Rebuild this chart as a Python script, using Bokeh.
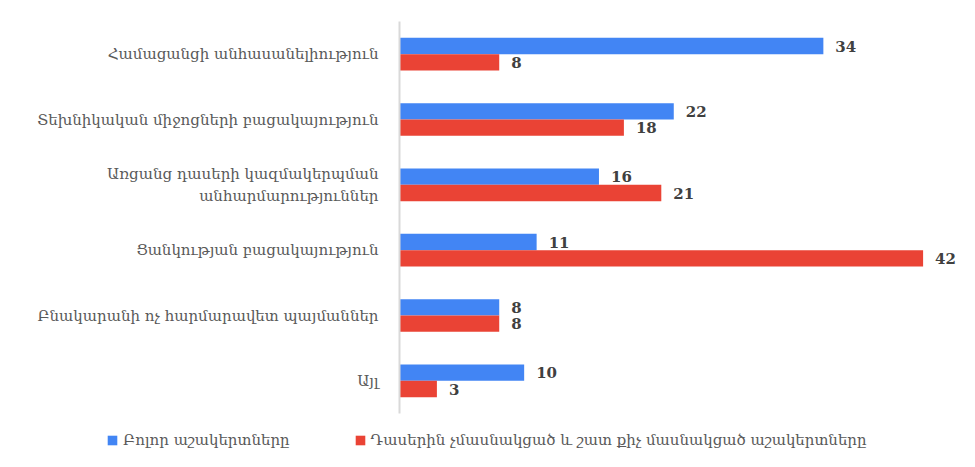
from bokeh.plotting import figure
from bokeh.layouts import column
from bokeh.models import ColumnDataSource, FactorRange, Legend, LegendItem
from bokeh.transform import dodge
from bokeh.core.properties import value
from bokeh.embed import file_html
from bokeh.resources import INLINE

categories = [
    "Համացանցի անհասանելիություն",
    "Տեխնիկական միջոցների բացակայություն",
    "Առցանց դասերի կազմակերպման\nանհարմարություններ",
    "Ցանկության բացակայություն",
    "Բնակարանի ոչ հարմարավետ պայմաններ",
    "Այլ",
]
all_students = [34, 22, 16, 11, 8, 10]
absent_students = [8, 18, 21, 42, 8, 3]
series_names = [
    "Բոլոր աշակերտները",
    "Դասերին չմասնակցած և շատ քիչ մասնակցած աշակերտները",
]
colors = ["#4285F4", "#EA4335"]

FONT = "DejaVu Serif"

src = ColumnDataSource(dict(
    cat=categories,
    a=all_students,
    b=absent_students,
    a_txt=[str(v) for v in all_students],
    b_txt=[str(v) for v in absent_students],
))

p = figure(
    width=967, height=425,
    y_range=FactorRange(*categories[::-1]),
    x_range=(0, 45),
    output_backend="svg", toolbar_location=None,
    min_border_left=399, min_border_right=7, min_border_top=21, min_border_bottom=12,
)
p.frame_align = False
p.xaxis.visible = False
p.xgrid.visible = False
p.ygrid.visible = False
p.outline_line_color = None

ax = p.yaxis[0]
ax.axis_line_color = "#d9d9d9"
ax.axis_line_width = 2
ax.major_tick_line_color = None
ax.minor_tick_line_color = None
ax.major_label_standoff = 15
ax.major_label_text_font = FONT
ax.major_label_text_font_size = "15px"
ax.major_label_text_color = "#595959"

p.hbar(y=dodge("cat", 0.125, range=p.y_range), right="a", left=0, height=0.25,
       source=src, fill_color=colors[0], line_color=None)
p.hbar(y=dodge("cat", -0.125, range=p.y_range), right="b", left=0, height=0.25,
       source=src, fill_color=colors[1], line_color=None)

p.text(x="a", y=dodge("cat", 0.125, range=p.y_range), text="a_txt", source=src,
       x_offset=12, text_baseline="middle", text_align="left",
       text_font=value(FONT), text_font_style="bold", text_font_size="15px", text_color="#404040")
p.text(x="b", y=dodge("cat", -0.125, range=p.y_range), text="b_txt", source=src,
       x_offset=12, text_baseline="middle", text_align="left",
       text_font=value(FONT), text_font_style="bold", text_font_size="15px", text_color="#404040")

# legend strip (its renderers sit outside the strip's visible range)
p2 = figure(width=967, height=34, x_range=(-1, 0), y_range=(-1, 0),
            output_backend="svg", toolbar_location=None,
            min_border_left=0, min_border_right=0, min_border_top=0, min_border_bottom=0)
p2.frame_align = False
p2.axis.visible = False
p2.grid.visible = False
p2.outline_line_color = None
l1 = p2.hbar(y="a", right="a", left=0, height=0.5, source=src, fill_color=colors[0], line_color=None)
l2 = p2.hbar(y="b", right="b", left=0, height=0.5, source=src, fill_color=colors[1], line_color=None)

legend = Legend(items=[LegendItem(label=series_names[0], renderers=[l1]),
                       LegendItem(label=series_names[1], renderers=[l2])],
                location=(106, 10), orientation="horizontal",
                glyph_width=12, glyph_height=12, label_standoff=5, spacing=64,
                padding=0, margin=0, border_line_color=None, background_fill_alpha=0,
                label_text_font=FONT, label_text_font_size="15px", label_text_color="#595959")
p2.add_layout(legend, "center")

open("out.html", "w").write(file_html(column(p, p2, spacing=0), INLINE))
